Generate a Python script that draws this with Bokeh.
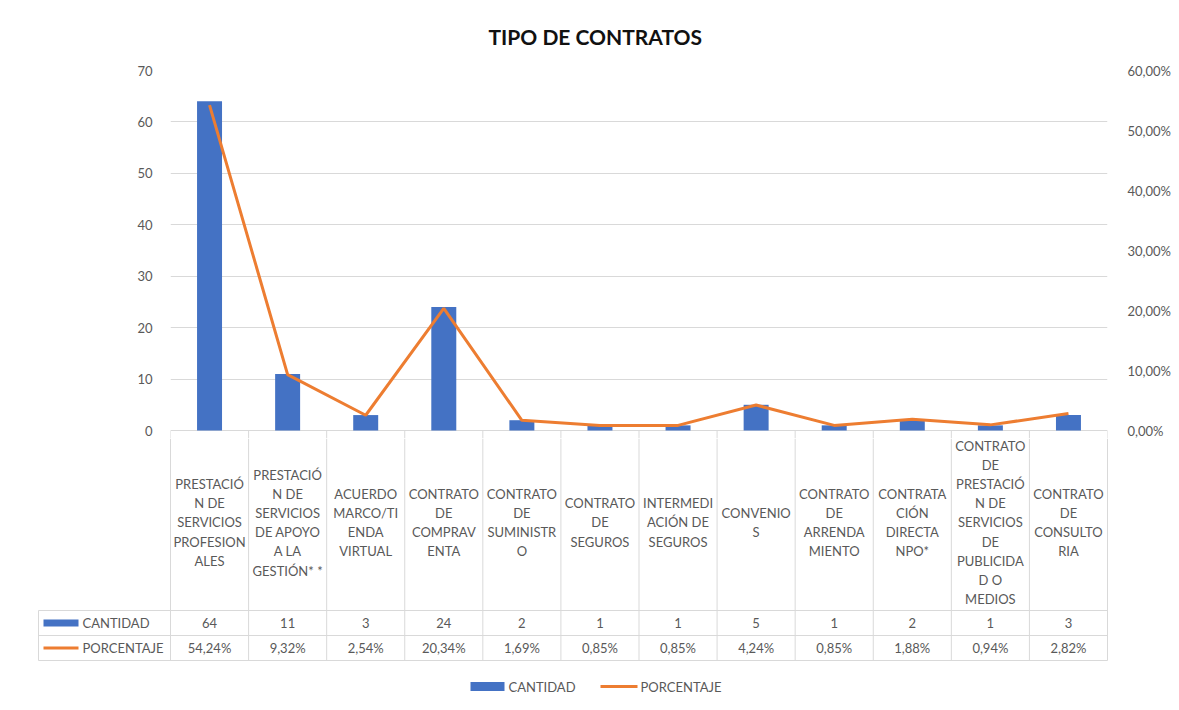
import numpy as np
from bokeh.plotting import figure
from bokeh.models import (Range1d, LinearAxis, FixedTicker, CustomJSTickFormatter)
from bokeh.layouts import column
from bokeh.embed import file_html
from bokeh.resources import INLINE
from bokeh.core.properties import value

# ---------------- data ----------------
categories = [
    "PRESTACIÓN DE SERVICIOS PROFESIONALES",
    "PRESTACIÓN DE SERVICIOS DE APOYO A LA GESTIÓN**",
    "ACUERDO MARCO/TIENDA VIRTUAL",
    "CONTRATO DE COMPRAVENTA",
    "CONTRATO DE SUMINISTRO",
    "CONTRATO DE SEGUROS",
    "INTERMEDIACIÓN DE SEGUROS",
    "CONVENIOS",
    "CONTRATO DE ARRENDAMIENTO",
    "CONTRATACIÓN DIRECTA NPO*",
    "CONTRATO DE PRESTACIÓN DE SERVICIOS DE PUBLICIDAD O MEDIOS",
    "CONTRATO DE CONSULTORIA",
]
category_cells = [
    "PRESTACIÓ\nN DE\nSERVICIOS\nPROFESION\nALES",
    "PRESTACIÓ\nN DE\nSERVICIOS\nDE APOYO\nA LA\nGESTIÓN* *",
    "ACUERDO\nMARCO/TI\nENDA\nVIRTUAL",
    "CONTRATO\nDE\nCOMPRAV\nENTA",
    "CONTRATO\nDE\nSUMINISTR\nO",
    "CONTRATO\nDE\nSEGUROS",
    "INTERMEDI\nACIÓN DE\nSEGUROS",
    "CONVENIO\nS",
    "CONTRATO\nDE\nARRENDA\nMIENTO",
    "CONTRATA\nCIÓN\nDIRECTA\nNPO*",
    "CONTRATO\nDE\nPRESTACIÓ\nN DE\nSERVICIOS\nDE\nPUBLICIDA\nD O\nMEDIOS",
    "CONTRATO\nDE\nCONSULTO\nRIA",
]
cantidad = [64, 11, 3, 24, 2, 1, 1, 5, 1, 2, 1, 3]
porcentaje = [54.24, 9.32, 2.54, 20.34, 1.69, 0.85, 0.85, 4.24, 0.85, 1.88, 0.94, 2.82]
left_ticks = [0, 10, 20, 30, 40, 50, 60, 70]
right_ticks = [0, 10, 20, 30, 40, 50, 60]
series_names = ["CANTIDAD", "PORCENTAJE"]
title_text = "TIPO DE CONTRATOS"

# ---------------- style / layout (page pixels) ----------------
BLUE = "#4472C4"
ORANGE = "#ED7D31"
GRID = "#D9D9D9"
TXT = "#595959"
FONT = "Lato"
FS = "13px"

W = 1175
H_TOTAL = 708
FRAME_L, FRAME_R = 170, 1107
TOP_PX, ZERO_PX = 70, 430          # value 70 / value 0
SPLIT = 438                        # where the chart figure ends, table figure starts
HEAD_BOT, ROW1_BOT, ROW2_BOT = 610, 635, 660
HEAD_TEXT_Y = 522
KEY_L = 38
KEY_GLYPH = (43, 78)
KEY_TEXT = 82
LEG_Y = 686
LEG_BAR = (470, 504)
LEG_LINE = (600, 637)
LEG_TEXT = (508, 640)

n = len(categories)
ppu = (FRAME_R - FRAME_L) / n
H1 = SPLIT
H2 = H_TOTAL - SPLIT


def px_u(px):
    return (px - FRAME_L) / ppu


def py(yi):   # page y -> table figure data y
    return H_TOTAL - yi


xc = np.arange(n) + 0.5
lupp = (left_ticks[-1] - left_ticks[0]) / (ZERO_PX - TOP_PX)
rupp = (right_ticks[-1] - right_ticks[0]) / (ZERO_PX - TOP_PX)
below = SPLIT - ZERO_PX

# ---------------- main chart ----------------
p = figure(width=W, height=H1, x_range=Range1d(0, n),
           y_range=Range1d(left_ticks[0] - below * lupp, left_ticks[-1]),
           output_backend="svg", toolbar_location=None,
           min_border_left=FRAME_L, min_border_right=W - FRAME_R,
           min_border_top=TOP_PX, min_border_bottom=0,
           frame_align=False, title=title_text)
p.title.align = "left"
p.title.offset = 318
p.title.vertical_align = "top"
p.title.standoff = 40
p.title.text_font = FONT
p.title.text_font_size = "21px"
p.title.text_font_style = "bold"
p.title.text_color = "#111111"
p.outline_line_color = None
p.xaxis.visible = False
p.xgrid.grid_line_color = None
p.ygrid.grid_line_color = GRID
p.ygrid.ticker = FixedTicker(ticks=left_ticks)

ya = p.yaxis[0]
ya.ticker = FixedTicker(ticks=left_ticks)
ya.axis_line_color = None
ya.major_tick_line_color = None
ya.minor_tick_line_color = None
ya.major_label_text_font = FONT
ya.major_label_text_font_size = FS
ya.major_label_text_color = TXT
ya.major_label_standoff = 12

p.extra_y_ranges = {"pct": Range1d(right_ticks[0] - below * rupp, right_ticks[-1])}
ra = LinearAxis(y_range_name="pct", ticker=FixedTicker(ticks=right_ticks),
                formatter=CustomJSTickFormatter(
                    code="return tick.toFixed(2).replace('.', ',') + '%';"))
ra.axis_line_color = None
ra.major_tick_line_color = None
ra.minor_tick_line_color = None
ra.major_label_text_font = FONT
ra.major_label_text_font_size = FS
ra.major_label_text_color = TXT
ra.major_label_standoff = 14
p.add_layout(ra, "right")

# table column borders: upper part, inside the chart figure
vx = list(range(n + 1))
p.segment(x0=vx, y0=[0] * len(vx), x1=vx, y1=[-below * lupp] * len(vx),
          line_color=GRID, line_width=1)

p.vbar(x=xc, top=cantidad, width=0.32, fill_color=BLUE, line_color=None)
p.line(x=xc, y=porcentaje, y_range_name="pct", line_color=ORANGE, line_width=3)

# ---------------- data table ----------------
t = figure(width=W, height=H2, x_range=Range1d(px_u(0), px_u(W)),
           y_range=Range1d(0, H2), output_backend="svg", toolbar_location=None,
           x_axis_location=None, y_axis_location=None, frame_align=False,
           min_border_left=0, min_border_right=0, min_border_top=0, min_border_bottom=0)
t.outline_line_color = None
t.grid.visible = False

uk = px_u(KEY_L)
t.segment(x0=vx, y0=[py(ROW2_BOT)] * len(vx), x1=vx, y1=[py(SPLIT)] * len(vx),
          line_color=GRID, line_width=1)
t.segment(x0=[uk], y0=[py(ROW2_BOT)], x1=[uk], y1=[py(HEAD_BOT)],
          line_color=GRID, line_width=1)
t.segment(x0=[uk] * 3, y0=[py(HEAD_BOT), py(ROW1_BOT), py(ROW2_BOT)],
          x1=[n] * 3, y1=[py(HEAD_BOT), py(ROW1_BOT), py(ROW2_BOT)],
          line_color=GRID, line_width=1)

t.text(x=xc, y=[py(HEAD_TEXT_Y)] * n, text=category_cells,
       text_align="center", text_baseline="middle", text_font=value(FONT),
       text_font_size=FS, text_color=TXT, text_line_height=1.2)
t.text(x=xc, y=[py((HEAD_BOT + ROW1_BOT) / 2)] * n, text=[str(v) for v in cantidad],
       text_align="center", text_baseline="middle", text_font=value(FONT),
       text_font_size=FS, text_color=TXT)
t.text(x=xc, y=[py((ROW1_BOT + ROW2_BOT) / 2)] * n,
       text=[f"{v:.2f}".replace(".", ",") + "%" for v in porcentaje],
       text_align="center", text_baseline="middle", text_font=value(FONT),
       text_font_size=FS, text_color=TXT)

# series keys inside the table
k0, k1 = px_u(KEY_GLYPH[0]), px_u(KEY_GLYPH[1])
t.rect(x=[(k0 + k1) / 2], y=[py((HEAD_BOT + ROW1_BOT) / 2)], width=k1 - k0, height=7,
       fill_color=BLUE, line_color=None)
t.segment(x0=[k0], y0=[py((ROW1_BOT + ROW2_BOT) / 2)], x1=[k1],
          y1=[py((ROW1_BOT + ROW2_BOT) / 2)], line_color=ORANGE, line_width=3)
t.text(x=[px_u(KEY_TEXT)] * 2,
       y=[py((HEAD_BOT + ROW1_BOT) / 2), py((ROW1_BOT + ROW2_BOT) / 2)],
       text=series_names, text_align="left", text_baseline="middle",
       text_font=value(FONT), text_font_size=FS, text_color=TXT)

# bottom legend
b0, b1 = px_u(LEG_BAR[0]), px_u(LEG_BAR[1])
t.rect(x=[(b0 + b1) / 2], y=[py(LEG_Y)], width=b1 - b0, height=9,
       fill_color=BLUE, line_color=None)
t.segment(x0=[px_u(LEG_LINE[0])], y0=[py(LEG_Y)], x1=[px_u(LEG_LINE[1])],
          y1=[py(LEG_Y)], line_color=ORANGE, line_width=3)
t.text(x=[px_u(LEG_TEXT[0]), px_u(LEG_TEXT[1])], y=[py(LEG_Y)] * 2,
       text=series_names, text_align="left", text_baseline="middle",
       text_font=value(FONT), text_font_size=FS, text_color=TXT)

layout = column(p, t, spacing=0)
open("out.html", "w").write(file_html(layout, INLINE))
